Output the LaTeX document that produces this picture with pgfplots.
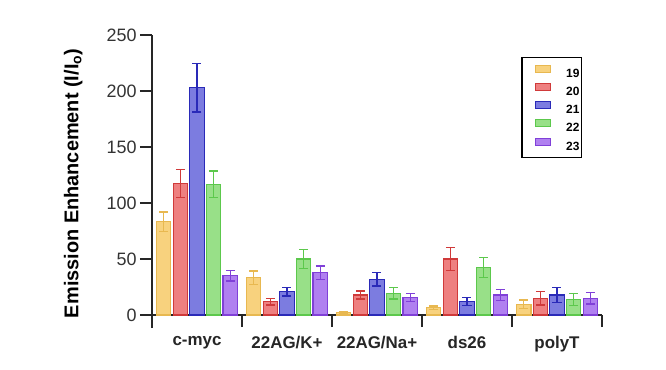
\documentclass[border=0pt]{standalone}
\usepackage{pgfplots}
\pgfplotsset{compat=1.18}
\usepackage{fontspec}
\setmainfont{Liberation Sans}
\definecolor{f19}{HTML}{F8D27E}\definecolor{e19}{HTML}{E8B850}
\definecolor{f20}{HTML}{EE8080}\definecolor{e20}{HTML}{D03A3A}
\definecolor{f21}{HTML}{7C7CE0}\definecolor{e21}{HTML}{2A2AB8}
\definecolor{f22}{HTML}{98E088}\definecolor{e22}{HTML}{5CC84C}
\definecolor{f23}{HTML}{B080F0}\definecolor{e23}{HTML}{8040D8}
\begin{document}
\begin{tikzpicture}
\begin{axis}[
  scale only axis, width=450bp, height=280bp,
  at={(0,0)}, anchor=south west,
  xmin=-0.5, xmax=4.5, ymin=0, ymax=250,
  ybar, bar width=0.16,
  axis lines=left,
  axis x line*=bottom, axis y line*=left,
  x axis line style={-, line width=2.6bp, black!85},
  y axis line style={-, line width=1.8bp, black!85, shorten <=-13bp},
  ytick={0,50,...,250},
  ytick style={line width=1.8bp, black!85},
  tick align=outside, major tick length=12bp, minor tick length=12bp,
  xtick={0,1,2,3,4},
  xticklabels={c-myc,22AG/K+,22AG/Na+,ds26,polyT},
  every major x tick/.append style={draw=none},
  every minor x tick/.append style={draw=black!85, line width=1.8bp},
  minor xtick={-0.5,0.5,1.5,2.5,3.5,4.5},
  xticklabel style={font=\fontsize{17}{17}\selectfont\bfseries, yshift=-6bp, text=black!85},
  yticklabel style={font=\fontsize{18}{18}\selectfont, text=black!80},
  /pgf/number format/assume math mode=true,
  ylabel={\textbf{Emission Enhancement (I/I\textsubscript{o})}},
  ylabel style={font=\fontsize{20}{20}\selectfont, at={(axis description cs:-0.175,0.47)}, anchor=center},
  clip=false,
  legend style={at={(0.821,0.921)}, anchor=north west, draw=black, line width=1.2bp,
    font=\fontsize{12}{12}\selectfont\bfseries, inner xsep=2bp, inner ysep=7bp,
    row sep=5.6bp, column sep=15bp,
    nodes={inner sep=0pt, text height=8.6bp, text depth=0bp, line width=1bp}},
  legend cell align=left,
  legend image code/.code={\path (0bp,0bp); \draw[#1, line width=1bp] (11bp,0.8bp) rectangle (26bp,7.8bp);},
  error bars/y dir=both, error bars/y explicit,
]
\addplot[fill=f19, draw=e19, line width=1.2bp, bar shift=-0.37,
  error bars/error bar style={e19, line width=1.3bp},
  error bars/error mark options={e19, rotate=90, mark size=4.5bp, line width=1.3bp}]
  coordinates {(0,83.3) +- (0,8.7) (1,33.3) +- (0,6) (2,2) +- (0,1) (3,6.5) +- (0,1.5) (4,9.5) +- (0,3.9)};
\addlegendentry{19}
\addplot[fill=f20, draw=e20, line width=1.2bp, bar shift=-0.185,
  error bars/error bar style={e20, line width=1.3bp},
  error bars/error mark options={e20, rotate=90, mark size=4.5bp, line width=1.3bp}]
  coordinates {(0,117.6) +- (0,12.4) (1,11.9) +- (0,3.1) (2,17.9) +- (0,3.5) (3,50) +- (0,10.4) (4,14.9) +- (0,5.9)};
\addlegendentry{20}
\addplot[fill=f21, draw=e21, line width=1.2bp, bar shift=0,
  error bars/error bar style={e21, line width=1.3bp},
  error bars/error mark options={e21, rotate=90, mark size=4.5bp, line width=1.3bp}]
  coordinates {(0,203) +- (0,21.7) (1,20.8) +- (0,3.9) (2,31.8) +- (0,6) (3,11.9) +- (0,3.6) (4,17.9) +- (0,6.5)};
\addlegendentry{21}
\addplot[fill=f22, draw=e22, line width=1.2bp, bar shift=0.185,
  error bars/error bar style={e22, line width=1.3bp},
  error bars/error mark options={e22, rotate=90, mark size=4.5bp, line width=1.3bp}]
  coordinates {(0,116.7) +- (0,11.9) (1,50) +- (0,8.6) (2,19.3) +- (0,5.1) (3,42.6) +- (0,8.9) (4,14) +- (0,5.3)};
\addlegendentry{22}
\addplot[fill=f23, draw=e23, line width=1.2bp, bar shift=0.37,
  error bars/error bar style={e23, line width=1.3bp},
  error bars/error mark options={e23, rotate=90, mark size=4.5bp, line width=1.3bp}]
  coordinates {(0,35) +- (0,4.6) (1,37.8) +- (0,5.9) (2,15.8) +- (0,3.5) (3,17.9) +- (0,5) (4,14.9) +- (0,5)};
\addlegendentry{23}
\end{axis}
\pgfresetboundingbox
\path (-152bp,-55bp) rectangle (514bp,315bp);
\end{tikzpicture}
\end{document}
